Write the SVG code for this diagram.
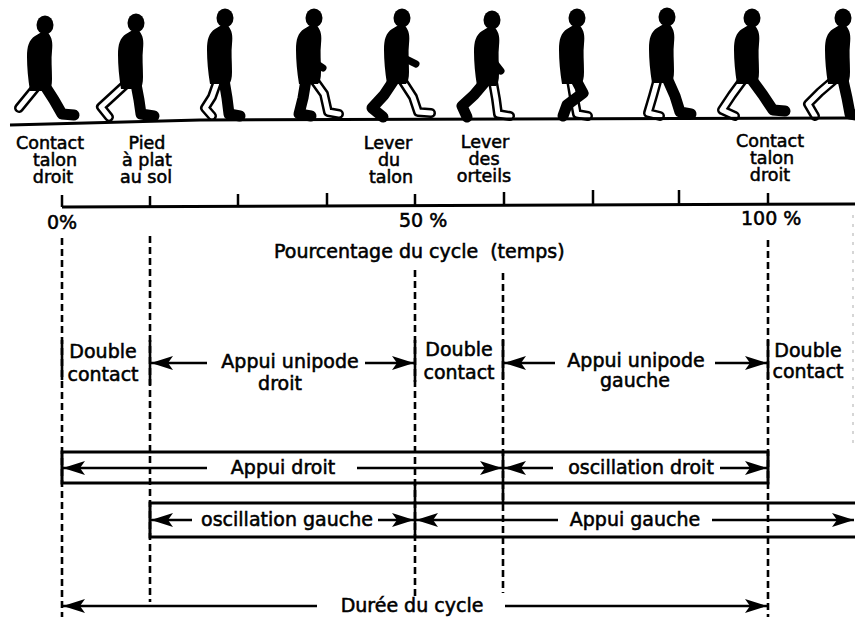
<svg xmlns="http://www.w3.org/2000/svg" xmlns:xlink="http://www.w3.org/1999/xlink" width="855" height="619" viewBox="0 0 855 619">
<style>
text{font-family:"DejaVu Sans","Liberation Sans",sans-serif;font-size:19px;fill:#000;stroke:#000;stroke-width:0.55}
.m{text-anchor:middle}
.ev{font-size:17.5px}
.bl{fill:none;stroke:#000;stroke-width:11;stroke-linecap:round;stroke-linejoin:round}
.wo{fill:none;stroke:#000;stroke-width:10;stroke-linecap:round;stroke-linejoin:round}
.wi{fill:none;stroke:#fff;stroke-width:5;stroke-linecap:round;stroke-linejoin:round}
.arm{fill:none;stroke:#000;stroke-width:7;stroke-linecap:round;stroke-linejoin:round}
.ln{fill:none;stroke:#000;stroke-width:2.6}
.ar{fill:none;stroke:#000;stroke-width:2.6;marker-end:url(#ah)}
.al{fill:none;stroke:#000;stroke-width:2.6;marker-start:url(#ah)}
.ds{fill:none;stroke:#000;stroke-width:2.6;stroke-dasharray:7 4}
.bar{fill:none;stroke:#000;stroke-width:3}
</style>
<defs>
<marker id="ah" viewBox="0 -7.5 22 15" refX="22" refY="0" markerWidth="22" markerHeight="15" markerUnits="userSpaceOnUse" orient="auto-start-reverse">
<path d="M0,-7 L22,0 L0,7 L5,0 Z" fill="#000"/>
</marker>
<g id="torso" fill="#000">
<ellipse cx="4" cy="-58" rx="8.5" ry="9.5"/>
<path d="M-11,8 C-13,-4 -14,-16 -14,-26 C-14,-37 -12,-43 -6,-47 L-1,-50 L7,-50 C11,-46 12,-40 11,-32 C10,-24 11,-14 11,-4 C11,2 10,6 8,8 Z"/>
</g>
</defs>
<rect width="855" height="619" fill="#fff"/>

<g id="figures">
<g id="fig1">
<path class="wo" d="M37,86 L28,97 L19,108"/><path class="wi" d="M37,86 L28,97 L19,108"/>
<path class="bl" d="M45,86 L54,100 L62,114 L74,115"/>
<use xlink:href="#torso" href="#torso" transform="translate(41,83)"/>
</g>
<g id="fig2">
<path class="wo" d="M126,84 L113,96 L101,107 L109,117"/><path class="wi" d="M126,84 L113,96 L101,107 L109,117"/>
<path class="bl" d="M136,84 L139,100 L141,114 L154,116"/>
<use xlink:href="#torso" href="#torso" transform="translate(132,81)"/>
</g>
<g id="fig3">
<path class="wo" d="M218,80 L212,97 L205,108 L212,116"/><path class="wi" d="M218,80 L212,97 L205,108 L212,116"/>
<path class="bl" d="M224,80 L227,98 L229,114 L240,116"/>
<use xlink:href="#torso" href="#torso" transform="translate(221,76)"/>
</g>
<g id="fig4">
<path class="wo" d="M314,80 L324,94 L328,112 L339,114"/><path class="wi" d="M314,80 L324,94 L328,112 L339,114"/>
<path class="bl" d="M306,80 L303,98 L299,114 L311,116"/>
<use xlink:href="#torso" href="#torso" transform="translate(310,76)"/>
<path class="arm" d="M312,48 L314,62 L323,68"/>
</g>
<g id="fig5">
<path class="wo" d="M402,80 L413,97 L418,112 L431,113"/><path class="wi" d="M402,80 L413,97 L418,112 L431,113"/>
<path class="bl" d="M394,80 L384,95 L372,108 L383,117"/>
<use xlink:href="#torso" href="#torso" transform="translate(398,76)"/>
<path class="arm" d="M400,46 L404,58 L416,64"/>
</g>
<g id="fig6">
<path class="wo" d="M493,82 L496,99 L498,114 L510,116"/><path class="wi" d="M493,82 L496,99 L498,114 L510,116"/>
<path class="bl" d="M485,82 L474,95 L462,106 L467,117"/>
<use xlink:href="#torso" href="#torso" transform="translate(488,78)"/>
<path class="arm" d="M490,50 L494,62 L501,71"/>
</g>
<g id="fig7">
<path class="wo" d="M571,80 L574,98 L577,114 L588,116"/><path class="wi" d="M571,80 L574,98 L577,114 L588,116"/>
<path class="bl" d="M576,80 L583,93 L567,105 L563,116"/>
<use xlink:href="#torso" href="#torso" transform="translate(573,76)"/>
</g>
<g id="fig8">
<path class="wo" d="M658,78 L653,96 L648,113 L660,116"/><path class="wi" d="M658,78 L653,96 L648,113 L660,116"/>
<path class="bl" d="M667,78 L675,96 L680,112 L691,114"/>
<use xlink:href="#torso" href="#torso" transform="translate(663,75)"/>
</g>
<g id="fig9">
<path class="wo" d="M743,80 L732,95 L722,110 L735,116"/><path class="wi" d="M743,80 L732,95 L722,110 L735,116"/>
<path class="bl" d="M752,80 L763,95 L773,110 L785,111"/>
<use xlink:href="#torso" href="#torso" transform="translate(748,76)"/>
</g>
<g id="fig10">
<path class="wo" d="M834,80 L820,92 L808,104 L815,116"/><path class="wi" d="M834,80 L820,92 L808,104 L815,116"/>
<path class="bl" d="M843,80 L847,98 L850,114 L862,116"/>
<use xlink:href="#torso" href="#torso" transform="translate(839,76)"/>
</g>
<path id="ground" d="M10,125 L200,120 L855,118" fill="none" stroke="#000" stroke-width="3"/>
</g>

<g id="events" class="ev">
<g id="ev-contact1"><text class="m ev" x="50" y="149">Contact</text><text class="m ev" x="55" y="166">talon</text><text class="m ev" x="53" y="183">droit</text></g>
<g id="ev-pied"><text class="m ev" x="147" y="149">Pied</text><text class="m ev" x="147" y="166">à plat</text><text class="m ev" x="146" y="183">au sol</text></g>
<g id="ev-talon"><text class="m ev" x="388" y="149">Lever</text><text class="m ev" x="389" y="166">du</text><text class="m ev" x="391" y="183">talon</text></g>
<g id="ev-orteils"><text class="m ev" x="485" y="148">Lever</text><text class="m ev" x="484" y="165">des</text><text class="m ev" x="484" y="182">orteils</text></g>
<g id="ev-contact2"><text class="m ev" x="770" y="147">Contact</text><text class="m ev" x="772" y="164">talon</text><text class="m ev" x="770" y="181">droit</text></g>
</g>

<g id="axis">
<path d="M62,207 L855,204" fill="none" stroke="#000" stroke-width="3"/>
<path d="M62,207V195 M150,207V196 M238,206V194 M327,206V193 M415,206V194 M504,205V192 M593,205V190 M679,205V190 M768,204V193" fill="none" stroke="#000" stroke-width="2.5"/>
<text x="47" y="229">0%</text>
<text x="399" y="227">50 %</text>
<text x="741" y="225">100 %</text>
<text x="274" y="258">Pourcentage du cycle <tspan dx="6">(temps)</tspan></text>
</g>

<g id="connectors">
<path class="ds" d="M62,238V617 M150,236V602 M415,270V600 M503,273V593 M768,240V617"/>
<path d="M853,215V445" fill="none" stroke="#bbb" stroke-width="1.2" stroke-dasharray="3 6"/>
<path class="ln" d="M62,340V380 M150,340V385 M415,340V382 M503,340V380 M768,340V380 M503,452V503 M415,483V537"/>
<path class="al" d="M151,363H207"/><path class="ar" d="M365,363H414"/>
<path class="al" d="M504,363H555"/><path class="ar" d="M715,363H767"/>
<path class="al" d="M63,468H207"/><path class="ar" d="M357,468H502"/>
<path class="al" d="M504,468H553"/><path class="ar" d="M720,468H767"/>
<path class="al" d="M151,520H192"/><path class="ar" d="M378,520H414"/>
<path class="al" d="M416,520H558"/><path class="ar" d="M712,520H854"/>
<path class="al" d="M63,606H317"/><path class="ar" d="M505,606H767"/>
</g>

<g id="phases">
<g id="dc1"><text class="m" x="103" y="358">Double</text><text class="m" x="103" y="381">contact</text></g>
<g id="aud"><text class="m" x="290" y="368">Appui unipode</text><text class="m" x="280" y="390">droit</text></g>
<g id="dc2"><text class="m" x="459" y="356">Double</text><text class="m" x="459" y="379">contact</text></g>
<g id="aug"><text class="m" x="636" y="367">Appui unipode</text><text class="m" x="635" y="387">gauche</text></g>
<g id="dc3"><text class="m" x="808" y="357">Double</text><text class="m" x="808" y="378">contact</text></g>
</g>

<g id="bar-droit">
<rect class="bar" x="62" y="452" width="706" height="31"/>
<text class="m" x="283" y="474">Appui droit</text>
<text class="m" x="641" y="474">oscillation droit</text>
</g>
<g id="bar-gauche">
<rect class="bar" x="150" y="503" width="720" height="34"/>
<text class="m" x="287" y="526">oscillation gauche</text>
<text class="m" x="635" y="526">Appui gauche</text>
</g>
<g id="cycle">
<text class="m" x="412" y="612">Durée du cycle</text>
</g>
</svg>
